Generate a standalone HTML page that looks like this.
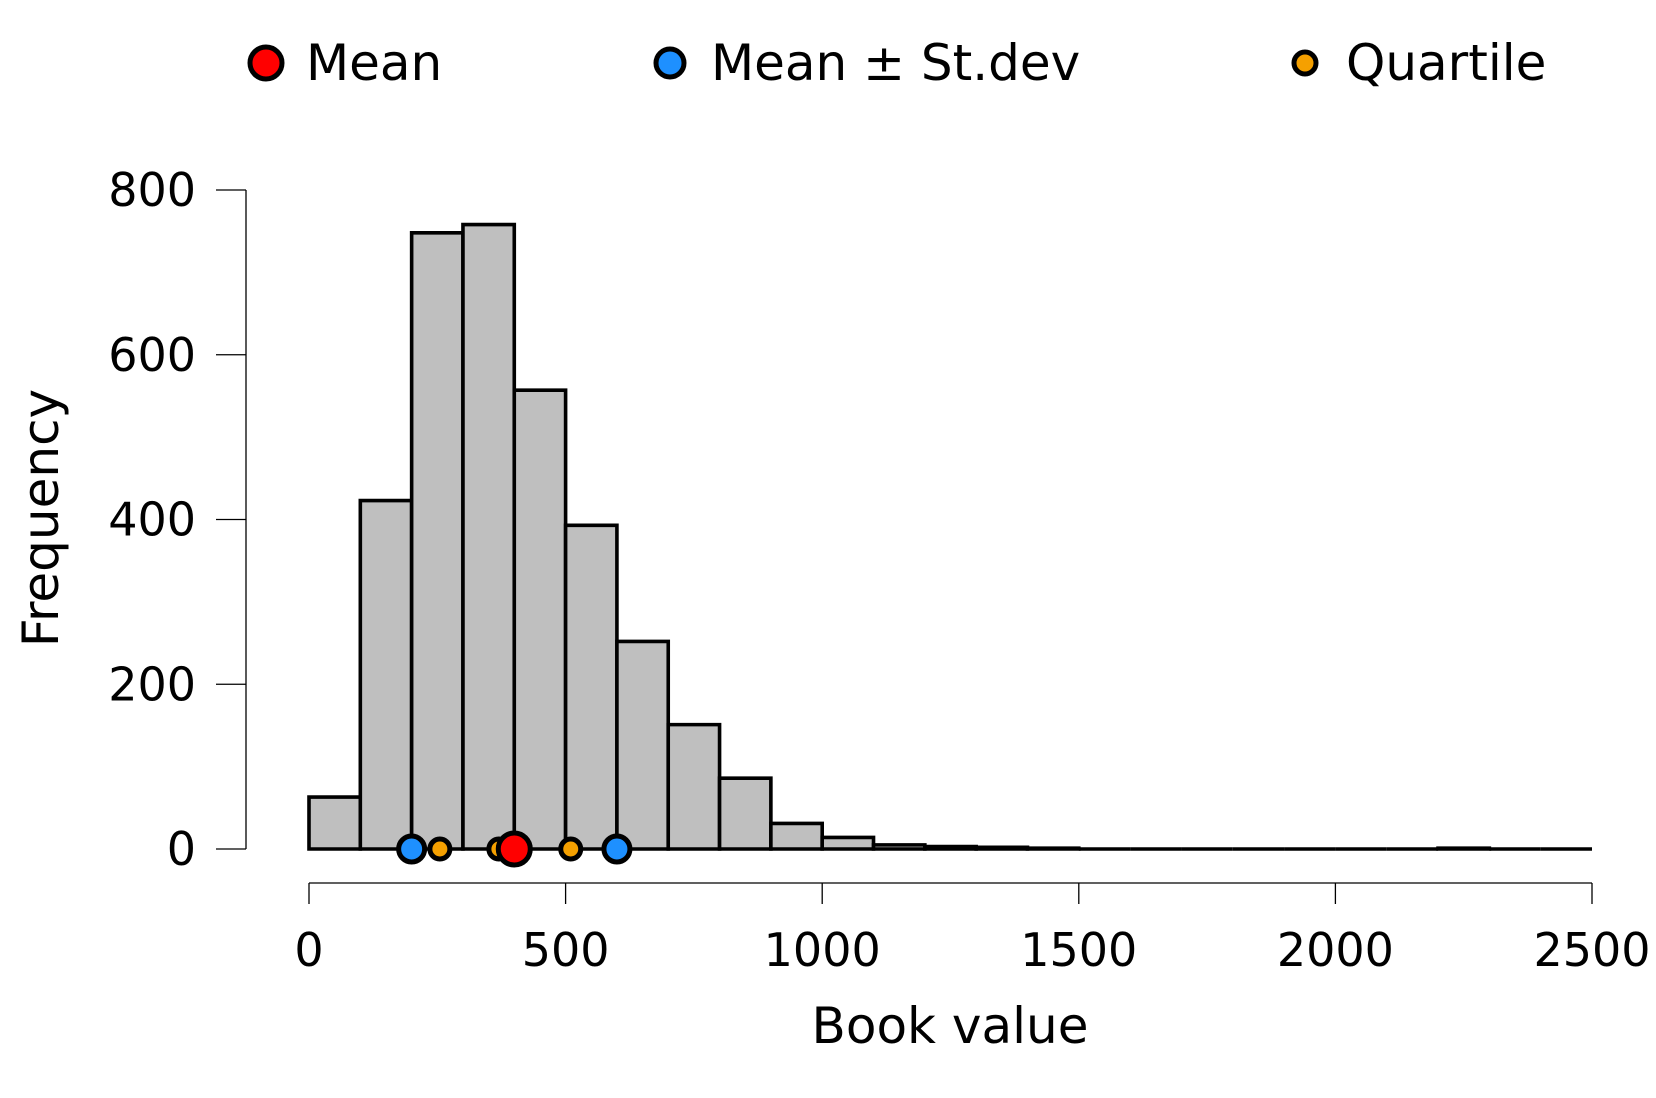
<!DOCTYPE html>
<html><head><meta charset="utf-8"><style>
body{margin:0;background:#fff}
text{font-family:"DejaVu Sans","Liberation Sans",sans-serif;fill:#000}
</style></head><body>
<svg id="chart" width="1656" height="1093" xmlns="http://www.w3.org/2000/svg"></svg>
<script>
const binStarts=[0,100,200,300,400,500,600,700,800,900,1000,1100,1200,1300,1400,1500,1600,1700,1800,1900,2000,2100,2200,2300,2400];
const counts=[63,423,748,758,557,393,252,151,86,31,14,5,3,2,1,0,0,0,0,0,0,0,1,0,0];
const binWidth=100;
const xTicks=[0,500,1000,1500,2000,2500];
const yTicks=[0,200,400,600,800];
const meanVal=[400];
const sdVals=[200,600];
const quartiles=[255,370,510];
const NS='http://www.w3.org/2000/svg';
const svg=document.getElementById('chart');
const x=v=>309+(v/2500)*(1592-309);
const y=v=>849-(v/800)*(849-190);
function mk(tag,attrs,parent){const e=document.createElementNS(NS,tag);for(const k in attrs)e.setAttribute(k,attrs[k]);(parent||svg).appendChild(e);return e;}
const bars=mk('g',{});


binStarts.forEach((b,i)=>{
  const x0=x(b),x1=x(b+binWidth),y0=y(0),y1=y(counts[i]);
  const r=mk('path',{d:`M${x0},${y0}L${x0},${y1}L${x1},${y1}L${x1},${y0}Z`,fill:'#bfbfbf',stroke:'#000','stroke-width':3.6,'stroke-linejoin':'miter'},bars);
  
  
});
const ya=mk('g',{});


mk('line',{x1:246,x2:246,y1:y(0),y2:y(800),stroke:'#000','stroke-width':1.3},ya);
yTicks.forEach(t=>{
  mk('line',{x1:216,x2:246,y1:y(t),y2:y(t),stroke:'#000','stroke-width':1.3},ya);
  const tx=mk('text',{x:196,y:y(t)+16,'text-anchor':'end','font-size':46},ya);
  tx.textContent=t;
  
  
});
const xa=mk('g',{});


mk('line',{x1:x(0),x2:x(2500),y1:883,y2:883,stroke:'#000','stroke-width':1.3},xa);
xTicks.forEach(t=>{
  mk('line',{x1:x(t),x2:x(t),y1:883,y2:904,stroke:'#000','stroke-width':1.3},xa);
  const tx=mk('text',{x:x(t),y:966,'text-anchor':'middle','font-size':46},xa);
  tx.textContent=t;
  
  
});
const xl=mk('text',{x:950,y:1043,'text-anchor':'middle','font-size':50});
xl.textContent='Book value';


const yl=mk('text',{x:0,y:0,'text-anchor':'middle','font-size':50,transform:'translate(58,518) rotate(-90)'});
yl.textContent='Frequency';


function pt(v,r,fill,name){const c=mk('circle',{cx:x(v),cy:y(0),r:r,fill:fill,stroke:'#000','stroke-width':5});

}
quartiles.forEach(q=>pt(q,10,'#f5a000','quartile-point'));
sdVals.forEach(s=>pt(s,13,'#1e90ff','sd-point'));
meanVal.forEach(m=>pt(m,16,'#ff0000','mean-point'));
const lg=mk('g',{});


[[266,16,'#ff0000',306,'Mean'],[670,14,'#1e90ff',711,'Mean ± St.dev'],[1305,11,'#f5a000',1346,'Quartile']].forEach(d=>{
  const c=mk('circle',{cx:d[0],cy:63,r:d[1],fill:d[2],stroke:'#000','stroke-width':5},lg);
  
  
  const t=mk('text',{x:d[3],y:80,'font-size':50},lg);
  t.textContent=d[4];
  
  
});
</script>
</body></html>
